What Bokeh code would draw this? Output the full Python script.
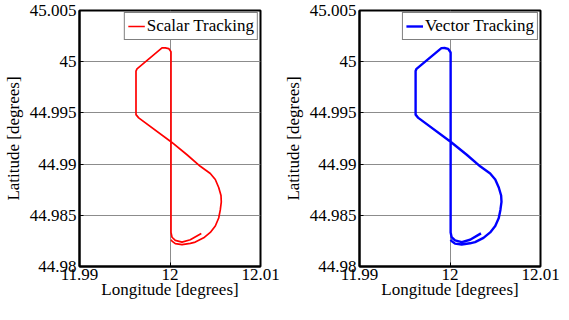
from bokeh.plotting import figure
from bokeh.layouts import row
from bokeh.models import Range1d, FixedTicker, Legend, LegendItem
from bokeh.embed import file_html
from bokeh.resources import INLINE

# Track (longitude, latitude in degrees)
scalar_lon = [12.003459, 12.002243, 12.001326, 12.000586, 12.000221, 12.000110,
              12.000110, 11.999856, 11.999481, 11.999116, 11.996354, 11.996243,
              11.996243, 11.996541, 12.000144, 12.001878, 12.003348, 12.004453,
              12.005006, 12.005381, 12.005635, 12.005669, 12.005558, 12.005381,
              12.005006, 12.004453, 12.003724, 12.002796, 12.002243, 12.001326,
              12.000586, 12.000221, 12.000110]
scalar_lat = [44.983233, 44.982613, 44.982387, 44.982547, 44.982857, 44.983327,
              45.000968, 45.001278, 45.001344, 45.001344, 44.999305, 44.999088,
              44.994831, 44.994511, 44.992162, 44.990912, 44.989784, 44.989079,
              44.988496, 44.987716, 44.986936, 44.986306, 44.985526, 44.984737,
              44.983957, 44.983327, 44.982801, 44.982387, 44.982265, 44.982143,
              44.982237, 44.982481, 44.982613]
vector_lon = [12.003425, 12.002220, 12.001300, 12.000560, 12.000180, 12.000070,
              12.000070, 11.999800, 11.999403, 11.999050, 11.996300, 11.996199,
              11.996199, 11.996500, 12.000100, 12.001850, 12.003330, 12.004440,
              12.005000, 12.005390, 12.005650, 12.005690, 12.005570, 12.005390,
              12.005000, 12.004440, 12.003700, 12.002770, 12.002200, 12.001290,
              12.000550, 12.000180, 12.000070]
vector_lat = [44.983233, 44.982613, 44.982387, 44.982547, 44.982857, 44.983327,
              45.000900, 45.001250, 45.001340, 45.001330, 44.999305, 44.999088,
              44.994831, 44.994511, 44.992162, 44.990912, 44.989784, 44.989079,
              44.988496, 44.987716, 44.986936, 44.986306, 44.985526, 44.984737,
              44.983957, 44.983327, 44.982801, 44.982387, 44.982265, 44.982143,
              44.982237, 44.982481, 44.982613]

x_ticks = [11.99, 12.0, 12.01]
x_labels = {11.99: "11.99", 12.0: "12", 12.01: "12.01"}
y_ticks = [44.98, 44.985, 44.99, 44.995, 45.0, 45.005]
y_labels = {44.98: "44.98", 44.985: "44.985", 44.99: "44.99",
            44.995: "44.995", 45.0: "45", 45.005: "45.005"}

FONT = "Liberation Serif"
FS = "17px"


def make(lon, lat, color, width, label, left_border, right_border):
    p = figure(output_backend="svg", toolbar_location=None,
               frame_width=181, frame_height=256,
               min_border_left=left_border, min_border_right=right_border,
               min_border_top=10, min_border_bottom=37,
               x_range=Range1d(11.99, 12.01), y_range=Range1d(44.98, 45.005),
               background_fill_color="white", border_fill_color="white")
    p.outline_line_color = "black"
    p.outline_line_width = 2
    p.xaxis.ticker = FixedTicker(ticks=x_ticks)
    p.yaxis.ticker = FixedTicker(ticks=y_ticks)
    p.xaxis.major_label_overrides = x_labels
    p.yaxis.major_label_overrides = y_labels
    for ax in (p.xaxis[0], p.yaxis[0]):
        ax.axis_line_color = "black"
        ax.axis_line_width = 2
        ax.major_tick_in = 4
        ax.major_tick_out = 0
        ax.minor_tick_in = 0
        ax.minor_tick_out = 0
        ax.major_tick_line_color = "black"
        ax.major_label_text_font = FONT
        ax.major_label_text_font_size = FS
        ax.major_label_text_color = "black"
        ax.axis_label_text_font = FONT
        ax.axis_label_text_font_size = FS
        ax.axis_label_text_font_style = "normal"
        ax.axis_label_text_color = "black"
    p.xaxis.axis_label = "Longitude [degrees]"
    p.yaxis.axis_label = "Latitude [degrees]"
    p.xaxis.major_label_standoff = 2
    p.xaxis.axis_label_standoff = -3
    p.yaxis.major_label_standoff = 3
    p.yaxis.axis_label_standoff = 4
    p.grid.grid_line_color = "#8c8c8c"
    p.grid.grid_line_width = 1
    p.xgrid.ticker = FixedTicker(ticks=x_ticks)
    p.ygrid.ticker = FixedTicker(ticks=y_ticks)

    r = p.line(lon, lat, line_color=color, line_width=width)
    legend = Legend(items=[LegendItem(label=label, renderers=[r])],
                    location="top_right", margin=2, padding=3, spacing=0,
                    label_standoff=2, glyph_width=17, glyph_height=16,
                    label_height=16,
                    label_text_font=FONT, label_text_font_size=FS,
                    label_text_color="black",
                    border_line_color="black", border_line_width=1.5,
                    background_fill_color="white", background_fill_alpha=1.0)
    p.add_layout(legend)
    return p


p1 = make(scalar_lon, scalar_lat, "#ff0000", 1.7, "Scalar Tracking", 75, 20)
p2 = make(vector_lon, vector_lat, "#0000ff", 2.4, "Vector Tracking", 73, 20)

layout = row(p1, p2)
open("out.html", "w").write(file_html(layout, INLINE))
